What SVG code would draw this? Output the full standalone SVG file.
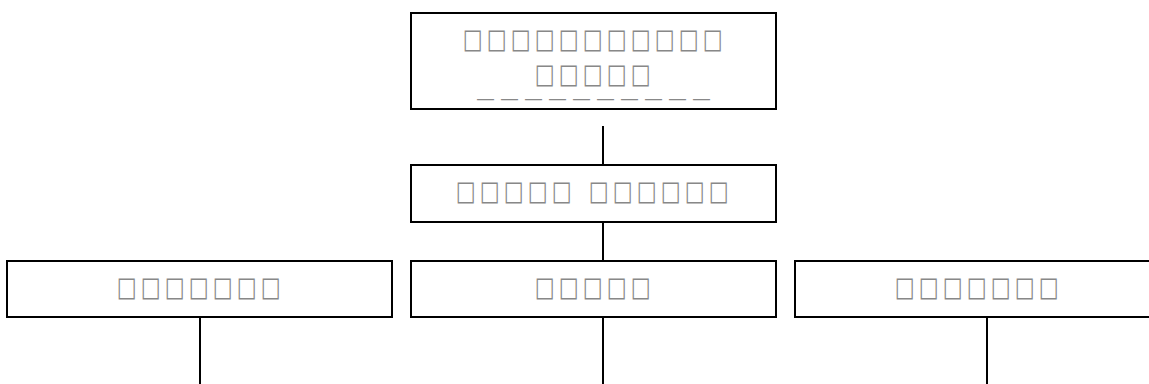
<svg xmlns="http://www.w3.org/2000/svg" width="1149" height="384" viewBox="0 0 1149 384">
<style>
.box{fill:#fff;stroke:#000;stroke-width:2}
.t{font-family:"DejaVu Sans",sans-serif;font-size:27px;fill:#888}
.d{font-family:"Liberation Sans",sans-serif;font-size:17px;fill:#888}
.c{stroke:#000;stroke-width:2;fill:none}
</style>
<rect width="1149" height="384" fill="#fff"/>
<g id="connectors">
<line class="c" x1="603" y1="126" x2="603" y2="165"/>
<line class="c" x1="603" y1="222" x2="603" y2="261"/>
<line class="c" x1="200" y1="317" x2="200" y2="384"/>
<line class="c" x1="603" y1="317" x2="603" y2="384"/>
<line class="c" x1="987" y1="317" x2="987" y2="384"/>
</g>
<g id="node-top">
<rect class="box" x="411" y="13" width="365" height="96"/>
<text class="t" transform="translate(462.7,47.6) scale(0.78,1)" x="0 30.77 61.54 92.31 123.08 153.85 184.62 215.38 246.15 276.92 307.69" y="0">□□□□□□□□□□□</text>
<text class="t" transform="translate(534.7,82.6) scale(0.78,1)" x="0 30.77 61.54 92.31 123.08" y="0">□□□□□</text>
<text class="d" x="477 501 525 549 573 597 621 645 669 693" y="104">——————————</text>
</g>
<g id="node-mid">
<rect class="box" x="411" y="165" width="365" height="57"/>
<text class="t" transform="translate(455.7,199.6) scale(0.78,1)" x="0 30.77 61.54 92.31 123.08 153.85 170.51 201.28 232.05 262.82 293.59 324.36" y="0">□□□□□ □□□□□□</text>
</g>
<g id="node-left">
<rect class="box" x="7" y="261" width="385" height="56"/>
<text class="t" transform="translate(116.7,295.6) scale(0.78,1)" x="0 30.77 61.54 92.31 123.08 153.85 184.62" y="0">□□□□□□□</text>
</g>
<g id="node-center">
<rect class="box" x="411" y="261" width="365" height="56"/>
<text class="t" transform="translate(534.7,295.6) scale(0.78,1)" x="0 30.77 61.54 92.31 123.08" y="0">□□□□□</text>
</g>
<g id="node-right">
<rect class="box" x="795" y="261" width="385" height="56"/>
<text class="t" transform="translate(894.7,295.6) scale(0.78,1)" x="0 30.77 61.54 92.31 123.08 153.85 184.62" y="0">□□□□□□□</text>
</g>
</svg>
